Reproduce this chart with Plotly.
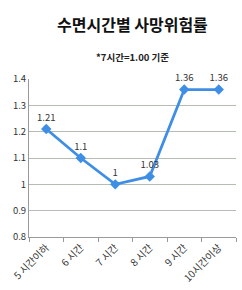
import plotly.graph_objects as go

categories = ["5 시간이하", "6 시간", "7 시간", "8 시간", "9 시간", "10시간이상"]
values = [1.21, 1.1, 1.0, 1.03, 1.36, 1.36]
y_ticks = [0.8, 0.9, 1.0, 1.1, 1.2, 1.3, 1.4]
y_tick_labels = ["0.8", "0.9", "1", "1.1", "1.2", "1.3", "1.4"]

FONT = "Noto Sans CJK KR"
LINE = "#3F8EE6"

fig = go.Figure()
fig.add_trace(go.Scatter(
    x=categories, y=values, mode="lines+markers+text",
    line=dict(color=LINE, width=2.8),
    marker=dict(symbol="diamond", size=8, color=LINE),
    texttemplate="%{y}", textposition="top center",
    textfont=dict(family=FONT, size=9.5, color="#333333"),
    cliponaxis=False, showlegend=False,
))

fig.update_layout(
    width=242, height=290,
    margin=dict(l=29, r=6, t=79, b=53),
    paper_bgcolor="white", plot_bgcolor="white",
    font=dict(family=FONT, size=9, color="#333333"),
    xaxis=dict(
        type="category", tickson="boundaries", ticks="outside", ticklen=4,
        tickcolor="#9a9a9a", showline=True, linecolor="#9a9a9a", linewidth=1,
        showgrid=False, tickangle=-45, tickfont=dict(size=10, color="#333333"),
        range=[-0.5, 5.5],
    ),
    yaxis=dict(
        range=[0.8, 1.4], tickvals=y_ticks, ticktext=y_tick_labels,
        showgrid=True, gridcolor="#b4bcb4", gridwidth=1,
        showline=True, linecolor="#9a9a9a", linewidth=1,
        ticks="", zeroline=False, tickfont=dict(size=9.5, color="#333333"),
    ),
    annotations=[
        dict(text="<b>수면시간별 사망위험률</b>", x=0.5, y=24, xref="paper", yref="paper",
             showarrow=False, font=dict(family=FONT, size=16, color="#111111")),
        dict(text="<b>*7시간=1.00 기준</b>", x=0.5, y=57, xref="paper", yref="paper",
             showarrow=False, font=dict(family=FONT, size=9.5, color="#222222")),
    ],
)
plot_h = 290 - 79 - 53
for ann, ypx in zip(fig.layout.annotations, [24, 57]):
    ann.y = (290 - 53 - ypx) / plot_h
    ann.yanchor = "middle"

fig.write_html("out.html")
